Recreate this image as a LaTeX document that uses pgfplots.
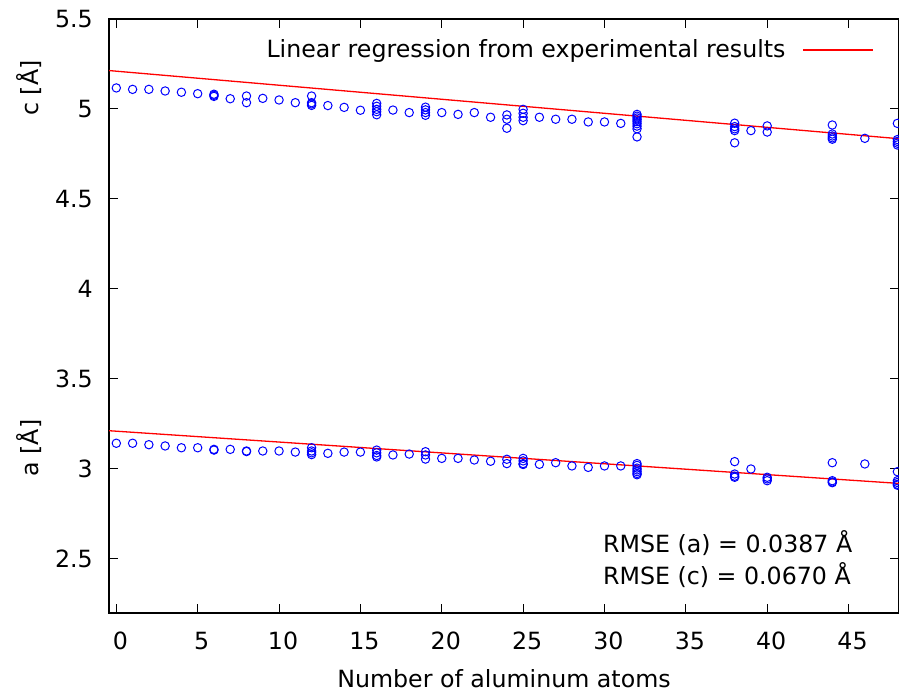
\documentclass[border=0pt]{standalone}
\usepackage{fontspec}
\setmainfont{DejaVu Sans}
\usepackage{pgfplots}
\pgfplotsset{compat=1.18}
\begin{document}
\fontsize{23.7bp}{28bp}\selectfont
\begin{tikzpicture}[x=1bp,y=1bp]
\path[use as bounding box] (0,0) rectangle (899,694);
\begin{axis}[
  at={(109bp,81bp)}, anchor=south west,
  scale only axis, width=790bp, height=594bp,
  xmin=-0.45, xmax=48.1, ymin=2.2, ymax=5.5,
  xtick={0,5,10,15,20,25,30,35,40,45},
  ytick={2.5,3,3.5,4,4.5,5,5.5},
  yticklabels={2.5,3,3.5,4,4.5,5,5.5},
  tick align=inside, major tick length=9bp,
  axis line style={line width=1.3bp},
  every tick/.style={black, line width=1bp},
  /pgf/number format/assume math mode=true,
  tick label style={font=\fontsize{23.7bp}{28bp}\selectfont},
  yticklabel style={anchor=east, inner sep=0pt, xshift=-16bp},
  xticklabel style={anchor=base, inner sep=0pt, yshift=-37bp, xshift=4bp},
  xlabel={Number of aluminum atoms},
  xlabel style={at={(axis description cs:0.5,-0.1255)}, anchor=base, inner sep=0pt, font=\fontsize{23.7bp}{28bp}\selectfont},
  legend plot pos=right,
  legend image code/.code={\draw[red, line width=1.3bp] (0bp,0bp) -- (70bp,0bp);},
  legend style={draw=none, fill=none, at={(0.9684,0.9478)}, anchor=east, inner sep=0pt, column sep=17bp, nodes={inner sep=0pt}, font=\fontsize{23.7bp}{28bp}\selectfont},
]
% regression lines
\addplot[red, line width=1.3bp] coordinates {(-0.45,5.2135) (48.1,4.8348)};
\addlegendentry{Linear regression from experimental results}
\addplot[red, line width=1.3bp, forget plot] coordinates {(-0.45,3.2127) (48.1,2.9199)};
% c data
\addplot[only marks, mark=o, mark size=4.2bp, blue, mark options={line width=1bp}, forget plot] coordinates {
(0,5.117) (1,5.109) (2,5.109) (3,5.100) (4,5.093) (5,5.085)
(6,5.082) (6,5.076) (6,5.070) (7,5.057) (8,5.072) (8,5.035)
(9,5.059) (10,5.050) (11,5.035)
(12,5.072) (12,5.035) (12,5.028) (12,5.020)
(13,5.019) (14,5.009) (15,4.993)
(16,5.031) (16,5.015) (16,4.998) (16,4.985) (16,4.968)
(17,4.994) (18,4.980)
(19,5.010) (19,4.995) (19,4.980) (19,4.965)
(20,4.980) (21,4.970) (22,4.980) (23,4.954)
(24,4.967) (24,4.943) (24,4.893)
(25,4.998) (25,4.976) (25,4.954) (25,4.935)
(26,4.954) (27,4.943) (28,4.943) (29,4.928) (30,4.928) (31,4.920)
(32,4.970) (32,4.960) (32,4.950) (32,4.940) (32,4.930) (32,4.918) (32,4.905) (32,4.890) (32,4.845)
(38,4.921) (38,4.902) (38,4.890) (38,4.880) (38,4.812)
(39,4.880) (40,4.906) (40,4.872)
(44,4.911) (44,4.861) (44,4.850) (44,4.840) (44,4.832)
(46,4.837)
(48,4.920) (48,4.830) (48,4.820) (48,4.810) (48,4.800)
};
% a data
\addplot[only marks, mark=o, mark size=4.2bp, blue, mark options={line width=1bp}, forget plot] coordinates {
(0,3.143) (1,3.143) (2,3.135) (3,3.128) (4,3.118) (5,3.118)
(6,3.109) (6,3.105) (7,3.109) (8,3.100) (8,3.097) (9,3.100) (10,3.100) (11,3.094)
(12,3.118) (12,3.100) (12,3.090) (12,3.080)
(13,3.087) (14,3.094) (15,3.094)
(16,3.105) (16,3.090) (16,3.075) (16,3.067)
(17,3.078) (18,3.083)
(19,3.096) (19,3.078) (19,3.055)
(20,3.059) (21,3.059) (22,3.050) (23,3.043)
(24,3.054) (24,3.030)
(25,3.059) (25,3.045) (25,3.030) (25,3.025)
(26,3.026) (27,3.035) (28,3.017) (29,3.009) (30,3.017) (31,3.017)
(32,3.030) (32,3.020) (32,3.005) (32,2.995) (32,2.985) (32,2.975) (32,2.968)
(38,3.041) (38,2.972) (38,2.960) (38,2.954)
(39,3.000)
(40,2.954) (40,2.945) (40,2.935)
(44,3.035) (44,2.935) (44,2.928) (44,2.924)
(46,3.028)
(48,2.985) (48,2.935) (48,2.925) (48,2.915) (48,2.910)
};
\end{axis}
\node[rotate=90, inner sep=0pt] at (29,606) {c [Å]};
\node[rotate=90, inner sep=0pt] at (29,246) {a [Å]};
\node[anchor=base west, inner sep=0pt] at (603,141) {RMSE (a) = 0.0387 Å};
\node[anchor=base west, inner sep=0pt] at (603,109) {RMSE (c) = 0.0670 Å};
\end{tikzpicture}
\end{document}
